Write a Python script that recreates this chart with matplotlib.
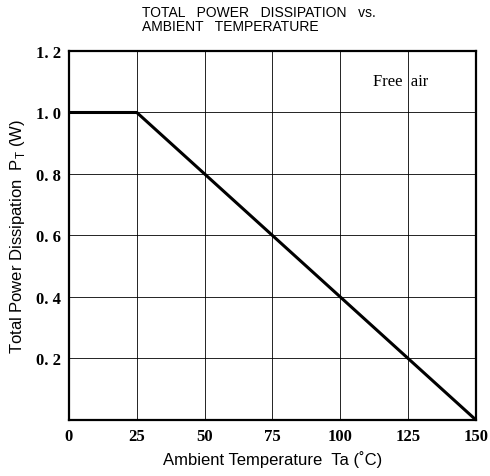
import matplotlib
matplotlib.use("Agg")
import matplotlib.pyplot as plt

# derating curve
temp = [0, 25, 150]
power = [1.0, 1.0, 0.0]

xticks = [0, 25, 50, 75, 100, 125, 150]
yticks = [0.2, 0.4, 0.6, 0.8, 1.0, 1.2]
ytick_labels = ["0. 2", "0. 4", "0. 6", "0. 8", "1. 0", "1. 2"]


def main():
    fig = plt.figure(figsize=(4.9, 4.77), dpi=100)
    ax = fig.add_axes([0.1408, 0.1174, 0.8306, 0.7736])

    ax.plot(temp, power, color="black", linewidth=2.2, solid_capstyle="butt")

    ax.set_xlim(0, 150)
    ax.set_ylim(0, 1.2)
    ax.set_xticks(xticks)
    ax.set_yticks(yticks)
    ax.set_yticklabels(ytick_labels)
    ax.grid(True, color="black", linewidth=0.6)
    ax.tick_params(length=0, pad=6)
    for lab in ax.get_xticklabels() + ax.get_yticklabels():
        lab.set_fontfamily("Liberation Serif")
        lab.set_fontweight("bold")
        lab.set_fontsize(12)
    for s in ax.spines.values():
        s.set_linewidth(1.6)

    ax.set_xlabel("Ambient Temperature  Ta (˚C)", fontfamily="Liberation Sans",
                  fontsize=12, labelpad=4)
    ax.set_ylabel("Total Power Dissipation  P$_\\mathregular{T}$ (W)",
                  fontfamily="Liberation Sans", fontsize=12, labelpad=6)

    ax.text(0.815, 0.92, "Free  air", transform=ax.transAxes, ha="center",
            va="center", fontfamily="Liberation Serif", fontsize=12)

    fig.text(0.29, 0.958, "TOTAL   POWER   DISSIPATION   vs.\nAMBIENT   TEMPERATURE",
             ha="left", va="center", fontfamily="Liberation Sans", fontsize=10,
             linespacing=0.95)

    fig.savefig("out.png", dpi=100)


if __name__ == "__main__":
    main()
